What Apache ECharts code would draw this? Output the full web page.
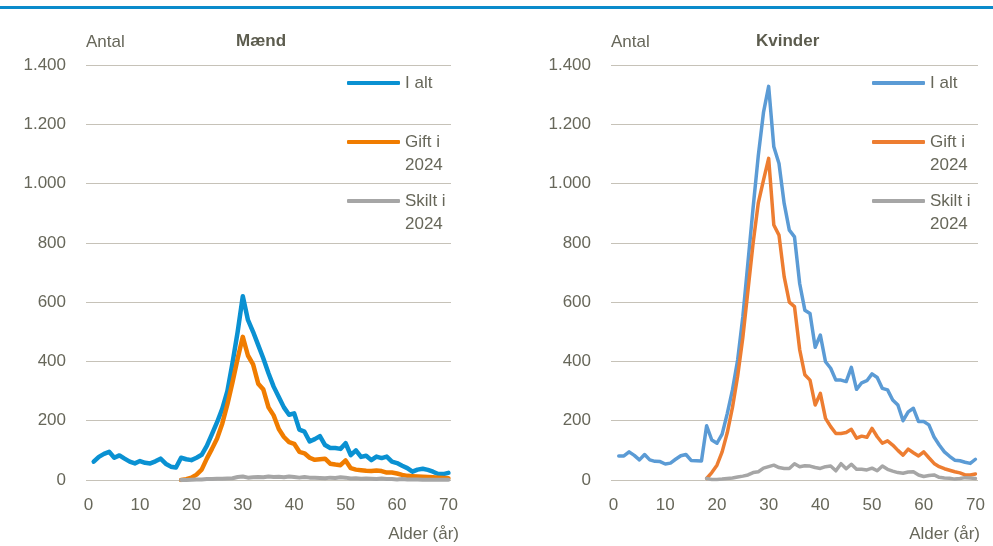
<!DOCTYPE html>
<html><head><meta charset="utf-8">
<script src="https://cdn.jsdelivr.net/npm/echarts@6/dist/echarts.min.js"></script>
<style>html,body{margin:0;padding:0;background:#fff}#c{width:993px;height:546px}</style>
</head><body><div id="c"></div>
<script>
// ---- categories (age 0..70) ----
const ages = [];
for (let a = 0; a <= 70; a++) ages.push(String(a));

// ---- Mænd ----
const menTotalStart = 1;   // ages 1..70
const menTotal = [62,78,88,95,75,83,72,62,56,64,
                  58,56,63,72,55,45,42,75,70,67,
                  75,85,115,155,195,240,300,395,500,620,
                  540,500,455,410,360,315,280,245,220,225,
                  170,163,130,138,148,118,108,108,105,124,
                  84,100,78,82,67,79,74,79,62,57,
                  48,40,28,35,38,34,28,20,20,24];
const menMarriedStart = 18; // ages 18..70
const menMarried = [0,3,8,18,35,72,105,140,190,255,
                    330,410,483,420,390,325,305,245,218,172,
                    145,128,122,95,90,75,68,70,72,55,
                    52,50,66,40,35,33,31,30,32,30,
                    25,25,22,17,14,13,12,11,10,9,
                    8,7,6];
const menDivorcedStart = 18;
const menDivorced = [0,0,1,2,2,3,3,4,4,5,
                     6,10,12,8,9,10,9,12,10,11,
                     9,12,10,8,10,8,8,7,6,8,
                     7,9,8,5,6,4,5,4,3,5,
                     3,3,2,3,2,2,2,1,1,1,
                     1,1,1];

// ---- Kvinder ----
const womenTotalStart = 1;
const womenTotal = [81,81,95,83,68,86,68,63,62,54,
                    57,70,82,86,66,65,64,183,135,124,
                    155,225,304,405,550,735,920,1095,1240,1328,
                    1124,1068,933,843,820,663,573,562,448,489,
                    399,377,337,337,332,380,306,328,335,358,
                    346,309,304,270,253,200,230,242,197,197,
                    186,145,118,95,80,67,65,60,56,70];
const womenMarriedStart = 18;
const womenMarried = [5,25,50,95,160,245,350,480,640,800,
                      935,1012,1085,860,826,686,600,585,440,355,
                      337,253,292,208,180,157,157,160,171,141,
                      148,144,174,146,124,132,118,100,84,104,
                      92,81,95,75,56,45,38,33,28,24,
                      17,17,20];
const womenDivorcedStart = 18;
const womenDivorced = [5,2,2,3,5,7,10,13,17,25,
                       28,40,45,50,42,39,39,55,45,48,
                       47,42,39,45,47,31,55,38,53,36,
                       36,34,40,31,47,36,30,25,23,27,
                       28,17,12,15,17,9,7,6,3,5,
                       8,7,5];

const seriesNames = ['I alt', 'Gift i 2024', 'Skilt i 2024'];
const legendLabels = {'I alt': 'I alt', 'Gift i 2024': 'Gift i\n2024', 'Skilt i 2024': 'Skilt i\n2024'};
const xLabelTicks = ['0','10','20','30','40','50','60','70'];

const FONT = "'Liberation Sans Narrow','Arial Narrow','Liberation Sans',Arial,sans-serif";
const TXT = '#67675A';
const GRID = '#C6C2B8';
const menColors = ['#0A91D2', '#F07C00', '#A6A6A6'];
const womenColors = ['#5B9BD5', '#ED7D31', '#A6A6A6'];

function pad(arr, start) { return new Array(start).fill(null).concat(arr); }

function xAxisDef(gi) {
  return {
    type: 'category', gridIndex: gi, data: ages, boundaryGap: true,
    axisLine: {show: false}, axisTick: {show: false},
    axisLabel: {interval: 9, margin: 17, fontSize: 17, color: TXT, fontFamily: FONT,
      formatter: v => xLabelTicks.indexOf(v) >= 0 ? v : ''},
    splitLine: {show: false},
    name: 'Alder (år)', nameLocation: 'end', nameGap: gi === 0 ? 8 : 2,
    nameTextStyle: {align: 'right', verticalAlign: 'top', padding: [46, 0, 0, 0], fontSize: 17, color: TXT, fontFamily: FONT}
  };
}
function yAxisDef(gi) {
  return {
    type: 'value', gridIndex: gi, min: 0, max: 1400, interval: 200,
    axisLine: {show: false}, axisTick: {show: false},
    axisLabel: {margin: 20, fontSize: 17, color: TXT, fontFamily: FONT,
      formatter: v => String(v).replace(/\B(?=(\d{3})+(?!\d))/g, '.')},
    splitLine: {lineStyle: {color: GRID, width: 1}},
    name: 'Antal', nameLocation: 'end', nameGap: 23,
    nameTextStyle: {align: 'left', verticalAlign: 'middle', fontSize: 17, color: TXT, fontFamily: FONT}
  };
}
function lineSeries(name, gi, data, start, color, width) {
  return {
    name: name, type: 'line', xAxisIndex: gi, yAxisIndex: gi,
    data: pad(data, start), showSymbol: false, symbol: 'none',
    lineStyle: {color: color, width: width, cap: 'round', join: 'round'},
    itemStyle: {color: color}, connectNulls: false, animation: false
  };
}
function legendDef(name, left, iconY, color) {
  const single = legendLabels[name].indexOf('\n') < 0;
  return {
    left: left, top: single ? iconY - 11.5 : iconY - 34.5, orient: 'vertical', padding: 0,
    icon: 'roundRect', itemWidth: 53, itemHeight: 4, selectedMode: false,
    data: [{name: name, itemStyle: {color: color}}],
    formatter: n => single ? legendLabels[n] : ' \n' + legendLabels[n],
    textStyle: {fontSize: 17, color: TXT, fontFamily: FONT, lineHeight: 23}
  };
}

const chart = echarts.init(document.getElementById('c'), null, {renderer: 'canvas'});
chart.setOption({
  animation: false,
  backgroundColor: '#fff',
  title: [
    {text: 'Mænd', left: 236, top: 33, padding: 0, textStyle: {fontSize: 17, fontWeight: 'bold', color: '#5C5C4E', fontFamily: FONT}},
    {text: 'Kvinder', left: 756, top: 33, padding: 0, textStyle: {fontSize: 17, fontWeight: 'bold', color: '#5C5C4E', fontFamily: FONT}}
  ],
  graphic: [{type: 'rect', left: 0, top: 6, shape: {width: 993, height: 3}, style: {fill: '#0A8BCB'}, silent: true}],
  grid: [
    {left: 86, right: 542, top: 65, bottom: 66},
    {left: 611, right: 15, top: 65, bottom: 66}
  ],
  xAxis: [xAxisDef(0), xAxisDef(1)],
  yAxis: [yAxisDef(0), yAxisDef(1)],
  legend: [
    legendDef('I alt', 347, 83, menColors[0]),
    legendDef('Gift i 2024', 347, 142, menColors[1]),
    legendDef('Skilt i 2024', 347, 201, menColors[2]),
    legendDef('I alt', 872, 83, womenColors[0]),
    legendDef('Gift i 2024', 872, 142, womenColors[1]),
    legendDef('Skilt i 2024', 872, 201, womenColors[2])
  ],
  series: [
    lineSeries(seriesNames[0], 0, menTotal, menTotalStart, menColors[0], 4.5),
    lineSeries(seriesNames[1], 0, menMarried, menMarriedStart, menColors[1], 4.5),
    lineSeries(seriesNames[2], 0, menDivorced, menDivorcedStart, menColors[2], 4),
    lineSeries(seriesNames[0], 1, womenTotal, womenTotalStart, womenColors[0], 3.5),
    lineSeries(seriesNames[1], 1, womenMarried, womenMarriedStart, womenColors[1], 3.5),
    lineSeries(seriesNames[2], 1, womenDivorced, womenDivorcedStart, womenColors[2], 3.5)
  ]
});
</script></body></html>
